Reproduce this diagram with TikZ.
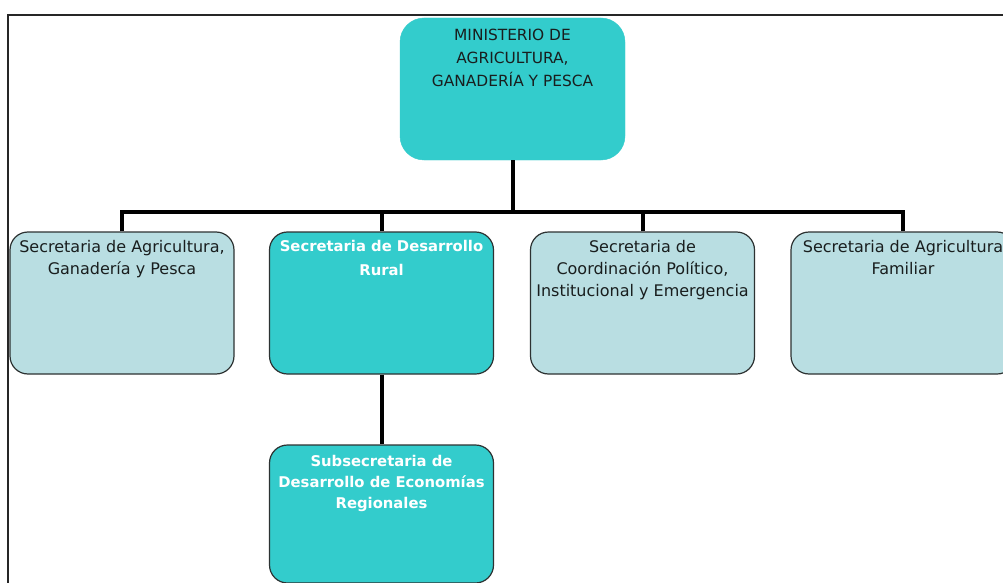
\documentclass[tikz,border=0pt]{standalone}
\usepackage{fontspec}
\setmainfont{DejaVu Sans}
\definecolor{teal1}{RGB}{51,204,204}
\definecolor{pale1}{RGB}{185,222,226}
\definecolor{edge1}{RGB}{45,50,50}
\definecolor{txt1}{RGB}{25,30,30}
\begin{document}
\begin{tikzpicture}[x=1pt,y=-1pt,
  box/.style={rectangle, rounded corners=18pt, inner sep=0pt, minimum width=224pt, minimum height=142pt},
  palebox/.style={box, fill=pale1, draw=edge1, line width=1.2pt},
  tealbox/.style={box, fill=teal1, draw=edge1, line width=1.2pt},
  lbl/.style={anchor=north, align=center, inner sep=0pt, font=\fontsize{16}{22}\selectfont, text=txt1},
  wlbl/.style={lbl, text=white, font=\fontsize{14.8}{22}\selectfont\bfseries},
  conn/.style={line width=4pt, draw=black}]
\clip (0,0) rectangle (1003,583);
\fill[white] (0,0) rectangle (1003,583);
\draw[line width=1.5pt, draw=black!85] (8,15) rectangle (1020,620);
% nodes
\node[box, fill=teal1, draw=teal1, rounded corners=24pt, minimum width=225pt, minimum height=142pt] (min) at (512.5,89) {};
\node[palebox] (b1) at (122,303) {};
\node[tealbox] (b2) at (381.5,303) {};
\node[palebox] (b3) at (642.5,303) {};
\node[palebox] (b4) at (903,303) {};
\node[tealbox, minimum height=138pt] (b5) at (381.5,514) {};
% labels
\node[lbl, font=\fontsize{15.4}{23}\selectfont] (tmin) at (512.5,29) {MINISTERIO DE\\AGRICULTURA,\\GANADERÍA Y PESCA};
\node[lbl] (t1) at (122,240) {Secretaria de Agricultura,\\Ganadería y Pesca};
\node[wlbl, font=\fontsize{14.8}{24}\selectfont\bfseries] (t2) at (381.5,240) {Secretaria de Desarrollo\\Rural};
\node[lbl] (t3) at (642.5,240) {Secretaria de\\Coordinación Político,\\Institucional y Emergencia};
\node[lbl] (t4) at (903,240) {Secretaria de Agricultura\\Familiar};
\node[wlbl, font=\fontsize{14.8}{21}\selectfont\bfseries] (t5) at (381.5,455) {Subsecretaria de\\Desarrollo de Economías\\Regionales};
% connectors
\coordinate (bus) at (512.5,212);
\draw[conn] (min.south) -- (min.south |- bus);
\draw[conn] (b1.north) -- (b1.north |- bus) -- (b4.north |- bus) -- (b4.north);
\draw[conn] (b2.north) -- (b2.north |- bus);
\draw[conn] (b3.north) -- (b3.north |- bus);
\draw[conn] (b2.south) -- (b5.north);
\end{tikzpicture}
\end{document}
